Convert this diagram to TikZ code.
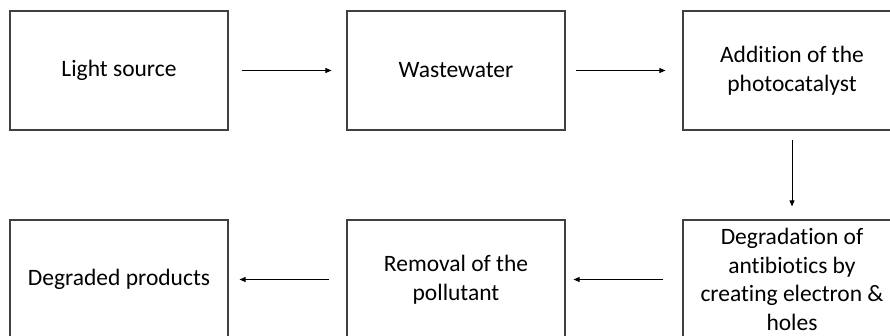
\documentclass[tikz,border=0pt]{standalone}
\usepackage{fontspec}
\setmainfont[RawFeature={-liga}]{Carlito}
\usetikzlibrary{arrows.meta}
\definecolor{boxline}{HTML}{404040}
\begin{document}
\begin{tikzpicture}[x=1pt,y=1pt,
  stepbox/.style={draw=boxline,line width=1.2pt,minimum width=218pt,minimum height=119pt,
    inner sep=0pt,align=center,font=\fontsize{23.5}{28.5}\selectfont},
  flow/.style={line width=0.9pt,-{Triangle[length=6pt,width=5pt]}}]
\useasboundingbox (0,0) rectangle (890,-335);
\clip (0,0) rectangle (890,-335);
\fill[white] (0,0) rectangle (890,-335);
\node[stepbox] (b1) at (119,-70.5) {Light source};
\node[stepbox] (b2) at (456,-70.5) {Wastewater};
\node[stepbox] (b3) at (792,-70.5) {Addition of the\\photocatalyst};
\node[stepbox] (b6) at (792,-279.5) {Degradation of\\antibiotics by\\creating electron \&\\holes};
\node[stepbox] (b5) at (456,-279.5) {Removal of the\\pollutant};
\node[stepbox] (b4) at (119,-279.5) {Degraded products};
\draw[flow,shorten <=13pt,shorten >=15pt] (b1.east) -- (b2.west);
\draw[flow,shorten <=10pt,shorten >=17pt] (b2.east) -- (b3.west);
\draw[flow,shorten <=9pt,shorten >=13pt] (b3.south) -- (b6.north);
\draw[flow,shorten <=19pt,shorten >=8pt] (b6.west) -- (b5.east);
\draw[flow,shorten <=17pt,shorten >=11pt] (b5.west) -- (b4.east);
\end{tikzpicture}
\end{document}
